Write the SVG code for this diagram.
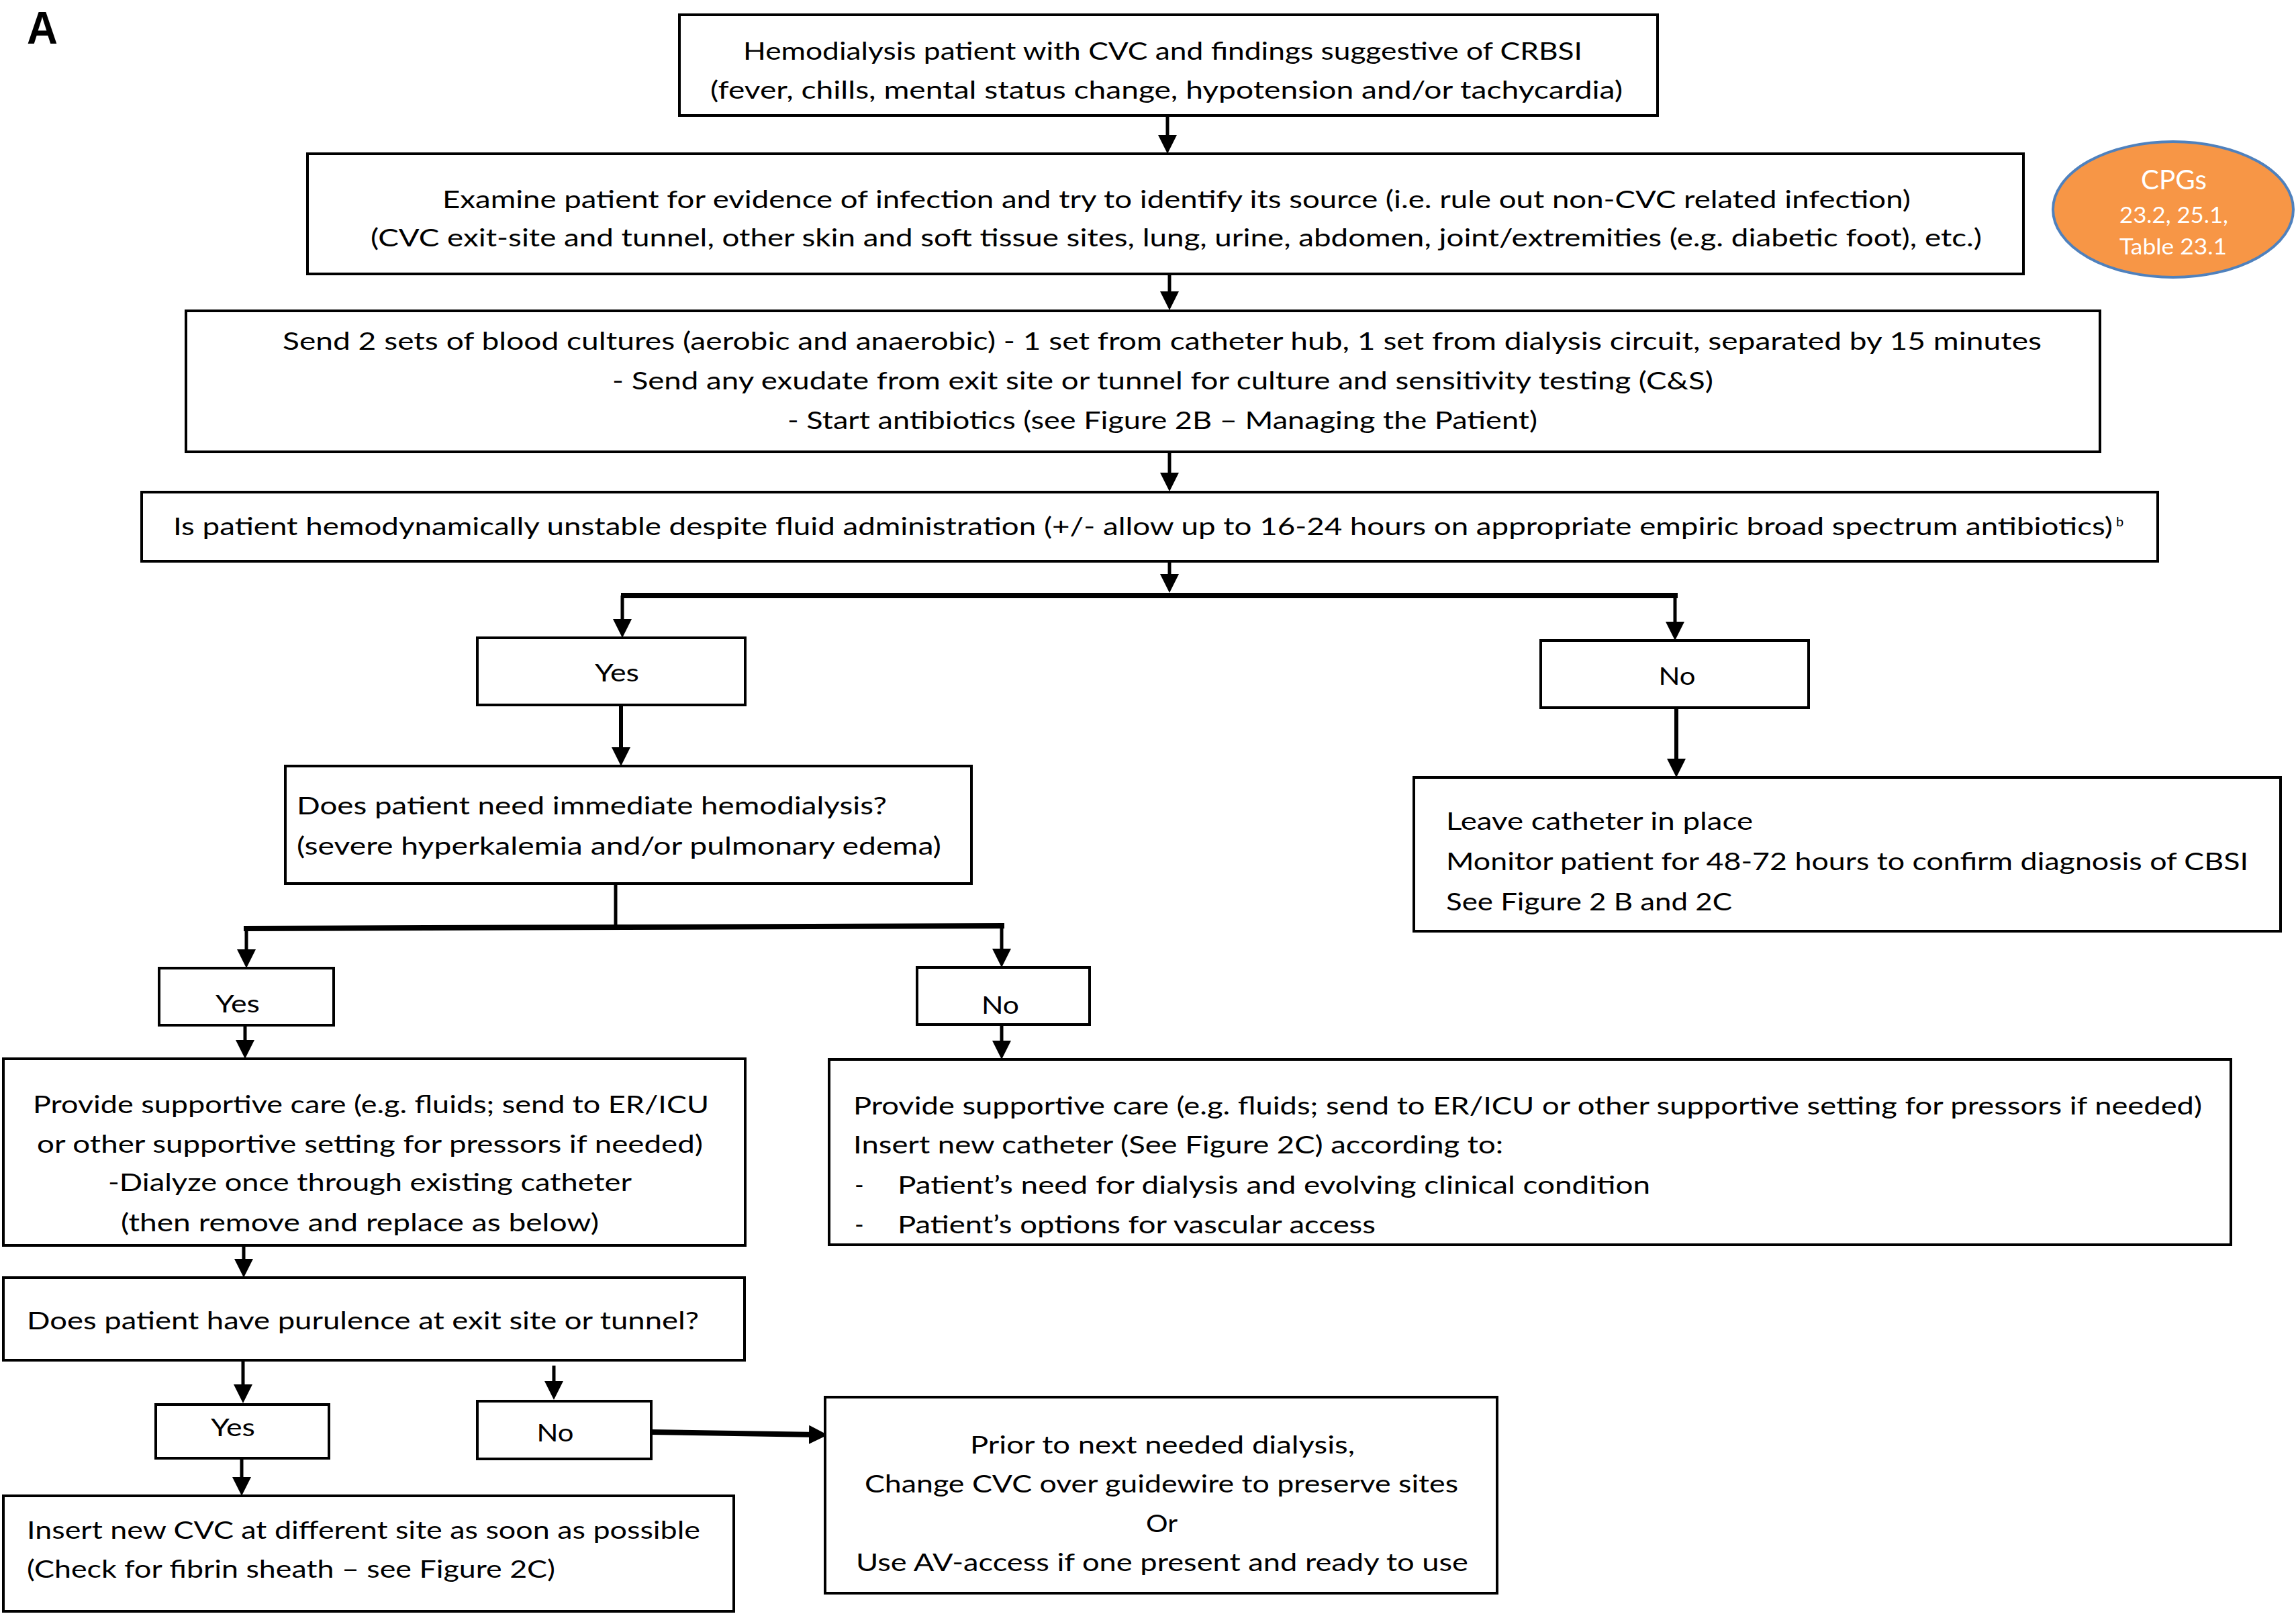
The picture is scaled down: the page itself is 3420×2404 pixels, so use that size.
<svg xmlns="http://www.w3.org/2000/svg" width="3420" height="2404" viewBox="0 0 3420 2404">
<style>
.box{fill:#fff;stroke:#000;stroke-width:4}
.t{font-family:Lato,"Open Sans","Liberation Sans",sans-serif;font-size:37px;fill:#000}
.c{text-anchor:middle}
.w{fill:#fff;text-anchor:middle}
.ln{stroke:#000;stroke-width:5;fill:none}
.lt{stroke:#000;stroke-width:6;fill:none}
.bar{stroke:#000;stroke-width:8;fill:none}
.ar{marker-end:url(#ah)}
</style>
<defs>
<marker id="ah" markerUnits="userSpaceOnUse" markerWidth="28" markerHeight="28" refX="14" refY="14" orient="auto">
<path d="M0,0 L28,14 L0,28 z" fill="#000"/>
</marker>
</defs>
<rect width="3420" height="2404" fill="#fff"/>
<text x="40" y="65" style="font-family:'Liberation Sans',Arial,sans-serif;font-weight:bold;font-size:68px" textLength="46" lengthAdjust="spacingAndGlyphs">A</text>

<g id="connectors">
<line class="ln ar" x1="1739" y1="172" x2="1739" y2="215"/>
<line class="ln ar" x1="1742" y1="408" x2="1742" y2="448"/>
<line class="ln ar" x1="1742" y1="673" x2="1742" y2="718"/>
<line class="ln ar" x1="1742" y1="836" x2="1742" y2="869"/>
<line class="bar" x1="925" y1="887" x2="2499" y2="887"/>
<line class="ln ar" x1="927" y1="887" x2="927" y2="936"/>
<line class="ln ar" x1="2495" y1="887" x2="2495" y2="940"/>
<line class="lt ar" x1="925" y1="1050" x2="925" y2="1127"/>
<line class="lt ar" x1="2497" y1="1054" x2="2497" y2="1144"/>
<line class="ln" x1="917" y1="1316" x2="917" y2="1381"/>
<line class="bar" x1="363" y1="1383" x2="1496" y2="1379"/>
<line class="ln ar" x1="367" y1="1382" x2="367" y2="1428"/>
<line class="ln ar" x1="1492" y1="1380" x2="1492" y2="1427"/>
<line class="ln ar" x1="365" y1="1527" x2="365" y2="1563"/>
<line class="ln ar" x1="1492" y1="1526" x2="1492" y2="1564"/>
<line class="ln ar" x1="363" y1="1857" x2="363" y2="1889"/>
<line class="ln ar" x1="362" y1="2026" x2="362" y2="2076"/>
<line class="ln ar" x1="825" y1="2034" x2="825" y2="2071"/>
<line class="ln ar" x1="360" y1="2174" x2="360" y2="2214"/>
<line class="bar ar" x1="970" y1="2133" x2="1219" y2="2137"/>
</g>

<g id="n1">
<rect class="box" x="1012" y="22" width="1457" height="150"/>
<text class="t" x="1107" y="89" textLength="1250" lengthAdjust="spacingAndGlyphs">Hemodialysis patient with CVC and findings suggestive of CRBSI</text>
<text class="t" x="1058" y="147" textLength="1359" lengthAdjust="spacingAndGlyphs">(fever, chills, mental status change, hypotension and/or tachycardia)</text>
</g>

<g id="n2">
<rect class="box" x="458" y="229" width="2556" height="179"/>
<text class="t" x="659" y="310" textLength="2187" lengthAdjust="spacingAndGlyphs">Examine patient for evidence of  infection and try to identify its source (i.e. rule out non-CVC related infection)</text>
<text class="t" x="552" y="367" textLength="2400" lengthAdjust="spacingAndGlyphs">(CVC exit-site and tunnel, other skin and soft tissue sites, lung, urine, abdomen, joint/extremities (e.g. diabetic foot), etc.)</text>
</g>

<g id="cpg">
<ellipse cx="3237" cy="312" rx="179" ry="101" fill="#F79646" stroke="#4F81BD" stroke-width="4"/>
<text class="t w" x="3238" y="282" style="font-size:41px" textLength="98" lengthAdjust="spacingAndGlyphs">CPGs</text>
<text class="t w" x="3238" y="332" style="font-size:33px" textLength="162" lengthAdjust="spacingAndGlyphs">23.2, 25.1,</text>
<text class="t w" x="3237" y="379" style="font-size:33px" textLength="160" lengthAdjust="spacingAndGlyphs">Table 23.1</text>
</g>

<g id="n3">
<rect class="box" x="277" y="463" width="2851" height="210"/>
<text class="t" x="421" y="521" textLength="2620" lengthAdjust="spacingAndGlyphs">Send 2 sets of  blood cultures (aerobic and anaerobic)  - 1 set  from catheter hub, 1 set from dialysis circuit, separated by 15 minutes</text>
<text class="t" x="912" y="580" textLength="1640" lengthAdjust="spacingAndGlyphs">- Send any exudate from exit site or tunnel for  culture and sensitivity testing (C&amp;S)</text>
<text class="t" x="1173" y="639" textLength="1117" lengthAdjust="spacingAndGlyphs">- Start antibiotics (see Figure 2B – Managing the Patient)</text>
</g>

<g id="n4">
<rect class="box" x="211" y="733" width="3003" height="103"/>
<text class="t" x="258" y="797" textLength="2889" lengthAdjust="spacingAndGlyphs">Is patient hemodynamically unstable despite fluid administration (+/-  allow up to 16-24 hours on appropriate empiric broad spectrum antibiotics)</text>
<text class="t" x="3152" y="784" style="font-size:20px">b</text>
</g>

<g id="yes1">
<rect class="box" x="711" y="950" width="399" height="100"/>
<text class="t c" x="919" y="1015" textLength="66" lengthAdjust="spacingAndGlyphs">Yes</text>
</g>

<g id="no1">
<rect class="box" x="2295" y="954" width="399" height="100"/>
<text class="t c" x="2498" y="1020" textLength="55" lengthAdjust="spacingAndGlyphs">No</text>
</g>

<g id="does">
<rect class="box" x="425" y="1141" width="1022" height="175"/>
<text class="t" x="442" y="1213" textLength="879" lengthAdjust="spacingAndGlyphs">Does patient need immediate hemodialysis?</text>
<text class="t" x="442" y="1273" textLength="960" lengthAdjust="spacingAndGlyphs">(severe hyperkalemia and/or pulmonary edema)</text>
</g>

<g id="leave">
<rect class="box" x="2106" y="1158" width="1291" height="229"/>
<text class="t" x="2154" y="1236" textLength="457" lengthAdjust="spacingAndGlyphs">Leave catheter in place</text>
<text class="t" x="2154" y="1296" textLength="1195" lengthAdjust="spacingAndGlyphs">Monitor patient for 48-72 hours to confirm diagnosis of CBSI</text>
<text class="t" x="2154" y="1356" textLength="426" lengthAdjust="spacingAndGlyphs">See Figure 2 B and 2C</text>
</g>

<g id="yes2">
<rect class="box" x="237" y="1442" width="260" height="85"/>
<text class="t c" x="354" y="1508" textLength="66" lengthAdjust="spacingAndGlyphs">Yes</text>
</g>

<g id="no2">
<rect class="box" x="1366" y="1441" width="257" height="85"/>
<text class="t c" x="1490" y="1510" textLength="56" lengthAdjust="spacingAndGlyphs">No</text>
</g>

<g id="prov1">
<rect class="box" x="5" y="1577" width="1105" height="278"/>
<text class="t" x="49" y="1658" textLength="1007" lengthAdjust="spacingAndGlyphs">Provide supportive care (e.g. fluids; send to ER/ICU</text>
<text class="t" x="55" y="1717" textLength="992" lengthAdjust="spacingAndGlyphs">or other supportive setting for pressors if needed)</text>
<text class="t" x="161" y="1774" textLength="780" lengthAdjust="spacingAndGlyphs">-Dialyze once through existing catheter</text>
<text class="t" x="180" y="1834" textLength="712" lengthAdjust="spacingAndGlyphs">(then remove and replace as below)</text>
</g>

<g id="prov2">
<rect class="box" x="1235" y="1578" width="2088" height="276"/>
<text class="t" x="1271" y="1660" textLength="2009" lengthAdjust="spacingAndGlyphs">Provide supportive care (e.g. fluids; send to ER/ICU or other supportive setting for pressors if needed)</text>
<text class="t" x="1271" y="1718" textLength="968" lengthAdjust="spacingAndGlyphs">Insert new catheter (See Figure 2C) according to:</text>
<text class="t" x="1273" y="1778">-</text>
<text class="t" x="1337" y="1778" textLength="1121" lengthAdjust="spacingAndGlyphs">Patient’s need for dialysis and  evolving clinical condition</text>
<text class="t" x="1273" y="1837">-</text>
<text class="t" x="1337" y="1837" textLength="712" lengthAdjust="spacingAndGlyphs">Patient’s options for vascular access</text>
</g>

<g id="pur">
<rect class="box" x="5" y="1903" width="1104" height="123"/>
<text class="t" x="40" y="1980" textLength="1001" lengthAdjust="spacingAndGlyphs">Does patient have purulence at exit site or tunnel?</text>
</g>

<g id="yes3">
<rect class="box" x="232" y="2092" width="258" height="80"/>
<text class="t c" x="347" y="2139" textLength="66" lengthAdjust="spacingAndGlyphs">Yes</text>
</g>

<g id="no3">
<rect class="box" x="711" y="2087" width="259" height="86"/>
<text class="t c" x="827" y="2147" textLength="55" lengthAdjust="spacingAndGlyphs">No</text>
</g>

<g id="insert">
<rect class="box" x="5" y="2228" width="1088" height="172"/>
<text class="t" x="40" y="2292" textLength="1003" lengthAdjust="spacingAndGlyphs">Insert new CVC at different site as soon as possible</text>
<text class="t" x="40" y="2350" textLength="787" lengthAdjust="spacingAndGlyphs">(Check for fibrin sheath – see Figure 2C)</text>
</g>

<g id="prior">
<rect class="box" x="1229" y="2081" width="1001" height="292"/>
<text class="t" x="1445" y="2165" textLength="573" lengthAdjust="spacingAndGlyphs">Prior to next needed dialysis,</text>
<text class="t" x="1288" y="2223" textLength="884" lengthAdjust="spacingAndGlyphs">Change CVC over guidewire to preserve sites</text>
<text class="t" x="1707" y="2282" textLength="47" lengthAdjust="spacingAndGlyphs">Or</text>
<text class="t" x="1275" y="2340" textLength="912" lengthAdjust="spacingAndGlyphs">Use AV-access if one present and ready to use</text>
</g>
</svg>
